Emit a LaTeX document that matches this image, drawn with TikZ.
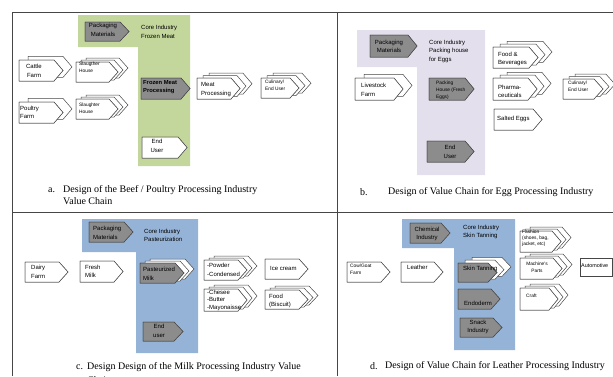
\documentclass[tikz,border=0pt]{standalone}
\usepackage{fontspec}
\setmainfont{Liberation Serif}
\newfontfamily\arialf{Liberation Sans}
\usepackage{tikz}
\definecolor{meatgreen}{HTML}{C3D69B}
\definecolor{egglilac}{HTML}{E4DFEC}
\definecolor{milkblue}{HTML}{95B3D7}
\definecolor{darkbox}{RGB}{140,140,140}
\definecolor{edgegray}{RGB}{70,70,70}

\begin{document}
\begin{tikzpicture}[x=1pt,y=-1pt,
    box/.style={draw=edgegray,line width=0.5pt,line join=miter},
    lbl/.style={font=\arialf\fontsize{6}{8.5}\selectfont,inner sep=0pt,align=left,anchor=west},
    tinylbl/.style={font=\arialf\fontsize{4.8}{6.8}\selectfont,inner sep=0pt,align=left,anchor=west},
    boldlbl/.style={font=\arialf\bfseries\fontsize{5.8}{8.5}\selectfont,inner sep=0pt,align=left,anchor=west},
    capline/.style={font=\fontsize{10}{12}\selectfont,inner sep=0pt,anchor=west}]
    \useasboundingbox (0,0) rectangle (613,376);
    % core industry areas
    \fill[meatgreen] (78,15) -- (190,15) -- (190,166) -- (138,166) -- (138,47) -- (78,47) -- cycle;
    \fill[egglilac] (357,30) -- (485,30) -- (485,175) -- (417,175) -- (417,67) -- (357,67) -- cycle;
    \fill[milkblue] (82,219) -- (198,219) -- (198,353) -- (136,353) -- (136,252) -- (82,252) -- cycle;
    \fill[milkblue] (402,219) -- (515,219) -- (515,350) -- (454,350) -- (454,248) -- (402,248) -- cycle;
    % table rules
    \draw[edgegray,line width=0.8pt] (12,376) -- (12,12) -- (613,12);
    \draw[edgegray,line width=0.8pt] (337,12) -- (337,376);
    \draw[edgegray,line width=0.8pt] (12,212) -- (613,212);
    % chain boxes: x/y/width/height/extra layers/layer shift/front fill
    \foreach \x/\y/\w/\h/\m/\d/\c in {85/22/44/19/0/6/darkbox,19/60/44/21/1/9/white,19/102/44/21/1/9/white,
        76/62/42/20/2/5/white,76/99/42/20/2/5/white,141/78/49/21/0/6/darkbox,142/137/45/21/0/6/white,
        197/78/43/21/2/6/white,261/78/38/20/2/6/white,
        370/35/47/22/0/6/darkbox,355/78/48/22/1/9/white,429/78/45/22/0/6/darkbox,427/141/47/21/0/6/darkbox,
        493/47/45/21/2/7/white,493/78/44/22/2/7/white,494/109/48/21/0/6/white,563/79/40/20/2/6/white,
        89/222/44/20/0/6/darkbox,25/262/43/20/0/6/white,80/261/43/21/0/6/white,140/263/44/20/2/5/darkbox,
        204/260/43/20/2/5/white,265/259/43/20/0/6/white,204/289/43/22/2/5/white,265/290/43/19/2/5/white,
        143/322/40/19/0/6/darkbox,
        410/223/40/20/0/6/darkbox,347/262/43/20/0/6/white,401/262/42/20/0/6/white,458/263/39/19/2/7/darkbox,
        458/289/42/20/0/6/darkbox,460/318/42/19/0/6/darkbox,520/231/41/21/2/5/white,520/258/42/21/2/5/white,
        520/288/38/22/2/5/white}
    {
        \foreach \k in {\m,...,0}
        {
            \draw[box,fill=white] ({\x+\k*\d},{\y-0.4*\k*\d}) -- ++({\w-9},0) -- ++(9,{\h/2}) -- ++(-9,{\h/2}) -- ++({9-\w},0) -- cycle;
        }
        \draw[box,fill=\c] (\x,\y) -- ++({\w-9},0) -- ++(9,{\h/2}) -- ++(-9,{\h/2}) -- ++({9-\w},0) -- cycle;
    }
    \draw[box,fill=white] (580,258) rectangle (612,276);
    % a. beef / poultry
    \node[lbl,align=center,anchor=center] (apack) at (103,30) {Packaging\\Materials};
    \node[lbl] (acore) at (141,32) {Core Industry\\Frozen Meat};
    \node[lbl,align=center,anchor=center] (cattle) at (34,71) {Cattle\\Farm};
    \node[lbl] (poultry) at (20,112.5) {Poultry\\Farm};
    \node[tinylbl] (slaugtop) at (79,67) {Slaugther\\House};
    \node[tinylbl] (slaugbot) at (79,108) {Slaughter\\House};
    \node[boldlbl] (frozen) at (143,87) {Frozen Meat\\Processing};
    \node[lbl,align=center,anchor=center] (aend) at (157,146) {End\\User};
    \node[lbl] (meatproc) at (201,89.5) {Meat\\Processing};
    \node[tinylbl] (aculin) at (265,85) {Culinary/\\End User};
    \node[capline] (capa) at (48,190) {a.};
    \node[capline] (capatxt) at (63,190) {Design of the Beef / Poultry Processing Industry};
    \node[capline] (capatxtb) at (63,201.5) {Value Chain};
    % b. eggs
    \node[lbl,align=center,anchor=center] (bpack) at (389,46.5) {Packaging\\Materials};
    \node[lbl] (bcore) at (429,51) {Core Industry\\Packing house\\for Eggs};
    \node[lbl] (livestock) at (361,90) {Livestock\\Farm};
    \node[tinylbl] (packhouse) at (436,90) {Packing\\House (Fresh\\Eggs)};
    \node[lbl,align=center,anchor=center] (bend) at (450,152) {End\\User};
    \node[lbl] (foodbev) at (498,59) {Food \&\\Beverages};
    \node[lbl] (pharma) at (498,91.5) {Pharma-\\ceuticals};
    \node[lbl] (salted) at (497,119) {Salted Eggs};
    \node[tinylbl] (bculin) at (568,86) {Culinary/\\End User};
    \node[capline] (capb) at (360,192) {b.};
    \node[capline] (capbtxt) at (388,192) {Design of Value Chain for Egg Processing Industry};
    % c. milk
    \node[lbl] (cpack) at (93,233) {Packaging\\Materials};
    \node[lbl] (ccore) at (144,235.5) {Core Industry\\Pasteurization};
    \node[lbl] (dairy) at (31,272) {Dairy\\Farm};
    \node[lbl] (fresh) at (85,271.5) {Fresh\\Milk};
    \node[lbl] (pasteur) at (143,274) {Pasteurized\\Milk};
    \node[lbl] (powder) at (207,270) {-Powder\\-Condensed};
    \node[lbl] (icecream) at (270,268) {Ice cream};
    \node[lbl,font=\arialf\fontsize{6}{7.5}\selectfont] (cheese) at (207,300) {-Chesee\\-Butter\\-Mayonaisse};
    \node[lbl] (biscuit) at (269,301) {Food\\(Biscuit)};
    \node[lbl,align=center,anchor=center] (cend) at (159,331) {End\\user};
    \node[capline] (capc) at (76,367) {c.};
    \node[capline] (capctxt) at (87,367) {Design Design of the Milk Processing Industry Value};
    \begin{scope}
        \clip (12,212) rectangle (337,376);
        \node[capline] (capctxtb) at (87,380) {Chain};
    \end{scope}
    % d. leather
    \node[lbl,align=center,anchor=center] (chem) at (427,234) {Chemical\\Industry};
    \node[lbl] (dcore) at (463,232) {Core Industry\\Skin Tanning};
    \node[tinylbl] (cowgoat) at (350,269) {Cow/Goat\\Farm};
    \node[lbl] (leather) at (407,267) {Leather};
    \node[lbl] (skintan) at (463,269) {Skin Tanning};
    \node[lbl] (endoderm) at (464,303) {Endoderm};
    \node[lbl,align=center,anchor=center] (snack) at (478,327) {Snack\\Industry};
    \node[tinylbl,font=\arialf\fontsize{4.8}{6}\selectfont] (fashion) at (522,238) {Fashion\\(shoes, bag,\\jacket, etc)};
    \node[tinylbl,align=center,anchor=center] (machine) at (537,267) {Machine's\\Parts};
    \node[tinylbl] (craft) at (526,296) {Craft};
    \node[tinylbl,font=\arialf\fontsize{5.4}{7}\selectfont] (auto) at (581,266) {Automotive};
    \node[capline] (capd) at (370,366) {d.};
    \node[capline] (capdtxt) at (385,366) {Design of Value Chain for Leather Processing Industry};
\end{tikzpicture}
\end{document}
